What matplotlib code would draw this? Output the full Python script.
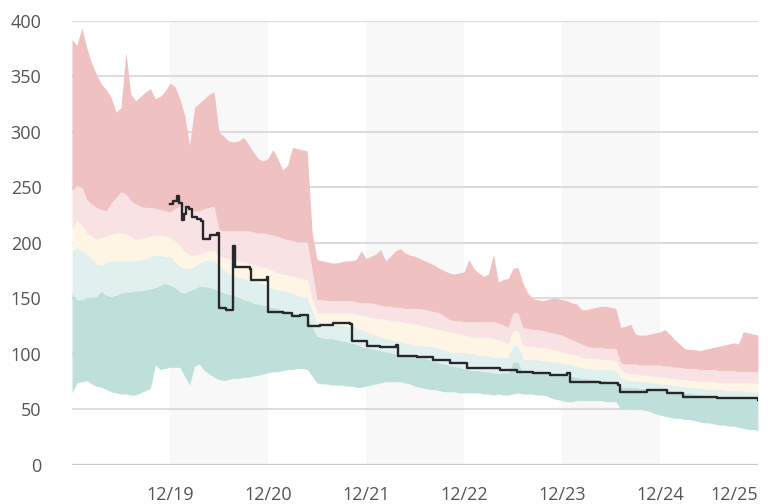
import numpy as np
import matplotlib
matplotlib.use("Agg")
import matplotlib.pyplot as plt

# sample grid: days since 12/18 00:00, every 0.05 day
days = np.linspace(0, 7, 141)

# band edges, bottom to top
p_lo = [65, 74, 75, 76, 73, 71, 70, 68, 66, 65,
        64, 64, 63, 63, 65, 67, 69, 90, 86, 87,
        88, 88, 88, 80, 72, 89, 91, 85, 82, 79,
        77, 76, 77, 78, 78, 79, 79, 80, 81, 82,
        83, 84, 84, 85, 86, 86, 87, 87, 86, 80,
        74, 73, 73, 72, 72, 72, 71, 71, 70, 70,
        71, 72, 73, 74, 75, 75, 75, 75, 74, 73,
        71, 70, 69, 68, 68, 67, 66, 66, 66, 65,
        65, 65, 65, 65, 64, 64, 63, 64, 63, 63,
        64, 65, 64, 64, 64, 63, 63, 62, 60, 59,
        58, 57, 57, 58, 58, 58, 58, 58, 58, 57,
        57, 57, 50, 51, 51, 50, 50, 49, 48, 46,
        45, 44, 43, 42, 42, 41, 41, 40, 39, 38,
        38, 37, 36, 36, 35, 35, 34, 33, 32, 32,
        31]
p_q1 = [155, 149, 149, 151, 151, 152, 157, 153, 152, 153,
        155, 156, 156, 157, 157, 158, 159, 160, 162, 164,
        162, 160, 156, 155, 157, 159, 161, 161, 160, 159,
        157, 155, 154, 153, 151, 149, 148, 146, 145, 144,
        143, 142, 141, 140, 139, 137, 136, 135, 134, 125,
        116, 115, 114, 114, 113, 112, 111, 110, 109, 107,
        106, 105, 104, 103, 102, 101, 100, 100, 99, 98,
        98, 97, 96, 95, 93, 92, 91, 90, 89, 88,
        87, 86, 85, 85, 84, 84, 83, 83, 83, 83,
        93, 93, 84, 84, 84, 84, 83, 83, 83, 82,
        82, 81, 80, 79, 78, 78, 77, 77, 76, 76,
        75, 75, 70, 70, 70, 70, 69, 69, 69, 69,
        68, 67, 67, 66, 66, 65, 65, 64, 64, 63,
        63, 63, 62, 62, 62, 61, 61, 61, 60, 60,
        60]
p_q2 = [193, 196, 193, 190, 186, 181, 180, 183, 184, 184,
        184, 184, 184, 184, 185, 186, 188, 189, 189, 188,
        188, 183, 179, 177, 177, 179, 182, 184, 185, 184,
        180, 176, 172, 170, 169, 168, 167, 166, 165, 163,
        161, 159, 158, 157, 156, 155, 153, 152, 151, 140,
        128, 128, 128, 127, 127, 126, 125, 125, 124, 122,
        120, 118, 117, 115, 114, 113, 112, 111, 110, 109,
        108, 108, 107, 107, 106, 105, 104, 102, 102, 101,
        101, 100, 100, 99, 99, 98, 97, 97, 97, 97,
        108, 108, 96, 95, 95, 95, 94, 94, 93, 93,
        92, 91, 90, 89, 88, 87, 87, 86, 86, 86,
        86, 85, 79, 77, 76, 76, 75, 75, 74, 74,
        73, 73, 72, 72, 71, 71, 70, 70, 69, 69,
        68, 68, 68, 68, 67, 67, 67, 67, 66, 66,
        66]
p_q3 = [213, 220, 216, 209, 206, 203, 205, 206, 208, 209,
        209, 208, 206, 203, 204, 205, 206, 207, 207, 206,
        205, 202, 198, 192, 189, 189, 190, 192, 193, 193,
        188, 187, 186, 185, 184, 183, 182, 181, 179, 178,
        177, 175, 173, 172, 171, 170, 169, 168, 167, 150,
        137, 137, 137, 137, 137, 137, 137, 137, 136, 135,
        134, 133, 132, 132, 131, 130, 130, 129, 128, 128,
        127, 126, 125, 124, 123, 122, 121, 120, 119, 118,
        117, 116, 115, 115, 115, 115, 114, 113, 111, 109,
        121, 121, 108, 107, 107, 106, 106, 105, 104, 103,
        102, 101, 100, 99, 97, 96, 96, 96, 95, 95,
        95, 94, 86, 83, 82, 82, 81, 81, 80, 80,
        79, 79, 78, 78, 77, 77, 76, 76, 75, 75,
        75, 75, 74, 74, 74, 74, 74, 74, 74, 74,
        73]
p_q4 = [247, 252, 250, 239, 235, 232, 230, 229, 236, 241,
        246, 244, 238, 235, 233, 232, 232, 231, 230, 229,
        228, 231, 233, 232, 231, 229, 229, 231, 232, 233,
        212, 211, 211, 211, 211, 211, 211, 210, 209, 209,
        208, 207, 206, 204, 203, 202, 201, 201, 201, 175,
        149, 149, 148, 148, 148, 148, 148, 148, 147, 146,
        146, 146, 145, 144, 143, 143, 142, 142, 141, 141,
        141, 141, 140, 139, 138, 137, 134, 131, 130, 130,
        129, 129, 129, 129, 129, 129, 129, 128, 126, 124,
        137, 137, 124, 123, 122, 122, 121, 120, 119, 118,
        117, 115, 113, 111, 109, 107, 106, 106, 106, 105,
        105, 105, 92, 91, 91, 91, 90, 90, 90, 90,
        90, 89, 89, 88, 88, 87, 87, 87, 86, 86,
        86, 86, 85, 85, 85, 85, 84, 84, 84, 84,
        84]
p_hi = [383, 378, 394, 376, 362, 352, 343, 338, 331, 318,
        322, 372, 334, 328, 332, 336, 339, 330, 332, 337,
        344, 341, 330, 315, 288, 322, 326, 330, 334, 336,
        300, 296, 292, 291, 292, 295, 289, 282, 276, 274,
        276, 284, 276, 266, 270, 286, 285, 284, 283, 210,
        185, 184, 183, 182, 182, 183, 184, 184, 185, 193,
        186, 188, 190, 194, 184, 188, 193, 195, 191, 189,
        188, 186, 184, 182, 180, 177, 175, 173, 172, 173,
        174, 185, 177, 173, 170, 172, 190, 165, 167, 168,
        177, 178, 164, 155, 150, 149, 148, 149, 150, 150,
        149, 148, 146, 145, 140, 140, 141, 142, 143, 143,
        142, 141, 124, 125, 127, 118, 117, 117, 118, 119,
        120, 122, 118, 113, 109, 105, 104, 104, 103, 104,
        105, 106, 107, 108, 109, 110, 109, 120, 119, 118,
        117]

# median line (steps)
med_day = [1.000, 1.031, 1.068, 1.092, 1.119, 1.143, 1.168, 1.194, 1.221, 1.272,
           1.316, 1.334, 1.408, 1.477, 1.500, 1.505, 1.571, 1.643, 1.648, 1.663,
           1.668, 1.816, 1.827, 1.990, 2.000, 2.153, 2.245, 2.327, 2.398, 2.408,
           2.531, 2.663, 2.837, 2.857, 3.010, 3.143, 3.306, 3.327, 3.517, 3.684,
           3.857, 4.031, 4.194, 4.367, 4.541, 4.704, 4.878, 5.051, 5.082, 5.388,
           5.571, 5.592, 5.745, 5.867, 6.071, 6.235, 6.582, 6.745, 7.000]
med_val = [235, 238, 242, 236, 221, 226, 232, 231, 223, 222,
           220, 204, 207, 209, 209, 141, 140, 141, 197, 197,
           178, 177, 167, 169, 138, 137, 134, 135, 135, 125,
           126, 128, 127, 112, 107, 106, 108, 98, 97.5, 94.5,
           91.5, 87, 87, 85.5, 84, 82.5, 81, 82.5, 75, 73.8,
           72, 66, 66, 67.5, 64.8, 61.5, 60.5, 60, 58.5]

tick_days = [1, 2, 3, 4, 5, 6, 7]
tick_labels = ["12/19", "12/20", "12/21", "12/22", "12/23", "12/24", "12/25"]
shaded_days = [1, 3, 5]

band_colors = ["#bfe0da", "#e0f0ef", "#fef5e4", "#f9e2e4", "#f0c1c1"]

plt.rcParams["font.family"] = ["Open Sans", "DejaVu Sans"]

fig = plt.figure(figsize=(7.68, 5.04), dpi=100)
ax = fig.add_axes([0.09375, 0.0774, 0.8932, 0.881])

for d in shaded_days:
    ax.axvspan(d, d + 1, color="#f8f8f8", lw=0, zorder=0)

for v in range(50, 401, 50):
    ax.axhline(v, color="#dcdcdc", lw=1.5, zorder=1)
ax.axhline(0, color="#c8c8c8", lw=1.6, zorder=1)

edges = [p_lo, p_q1, p_q2, p_q3, p_q4, p_hi]
for k, c in enumerate(band_colors):
    ax.fill_between(days, edges[k], edges[k + 1], color=c, lw=0, zorder=2)

ax.plot(med_day, med_val, color="#26282c", lw=1.7, zorder=3,
        drawstyle="steps-post")

ax.set_xlim(0, 7)
ax.set_ylim(0, 400)
ax.set_yticks(range(0, 401, 50))
ax.set_xticks(tick_days)
ax.set_xticklabels(tick_labels)
ax.get_xticklabels()[-1].set_horizontalalignment("right")
ax.tick_params(axis="both", length=0, labelsize=13, colors="#555555")
ax.tick_params(axis="y", pad=22)
ax.tick_params(axis="x", pad=15)
for s in ax.spines.values():
    s.set_visible(False)

fig.savefig("out.png", dpi=100)
